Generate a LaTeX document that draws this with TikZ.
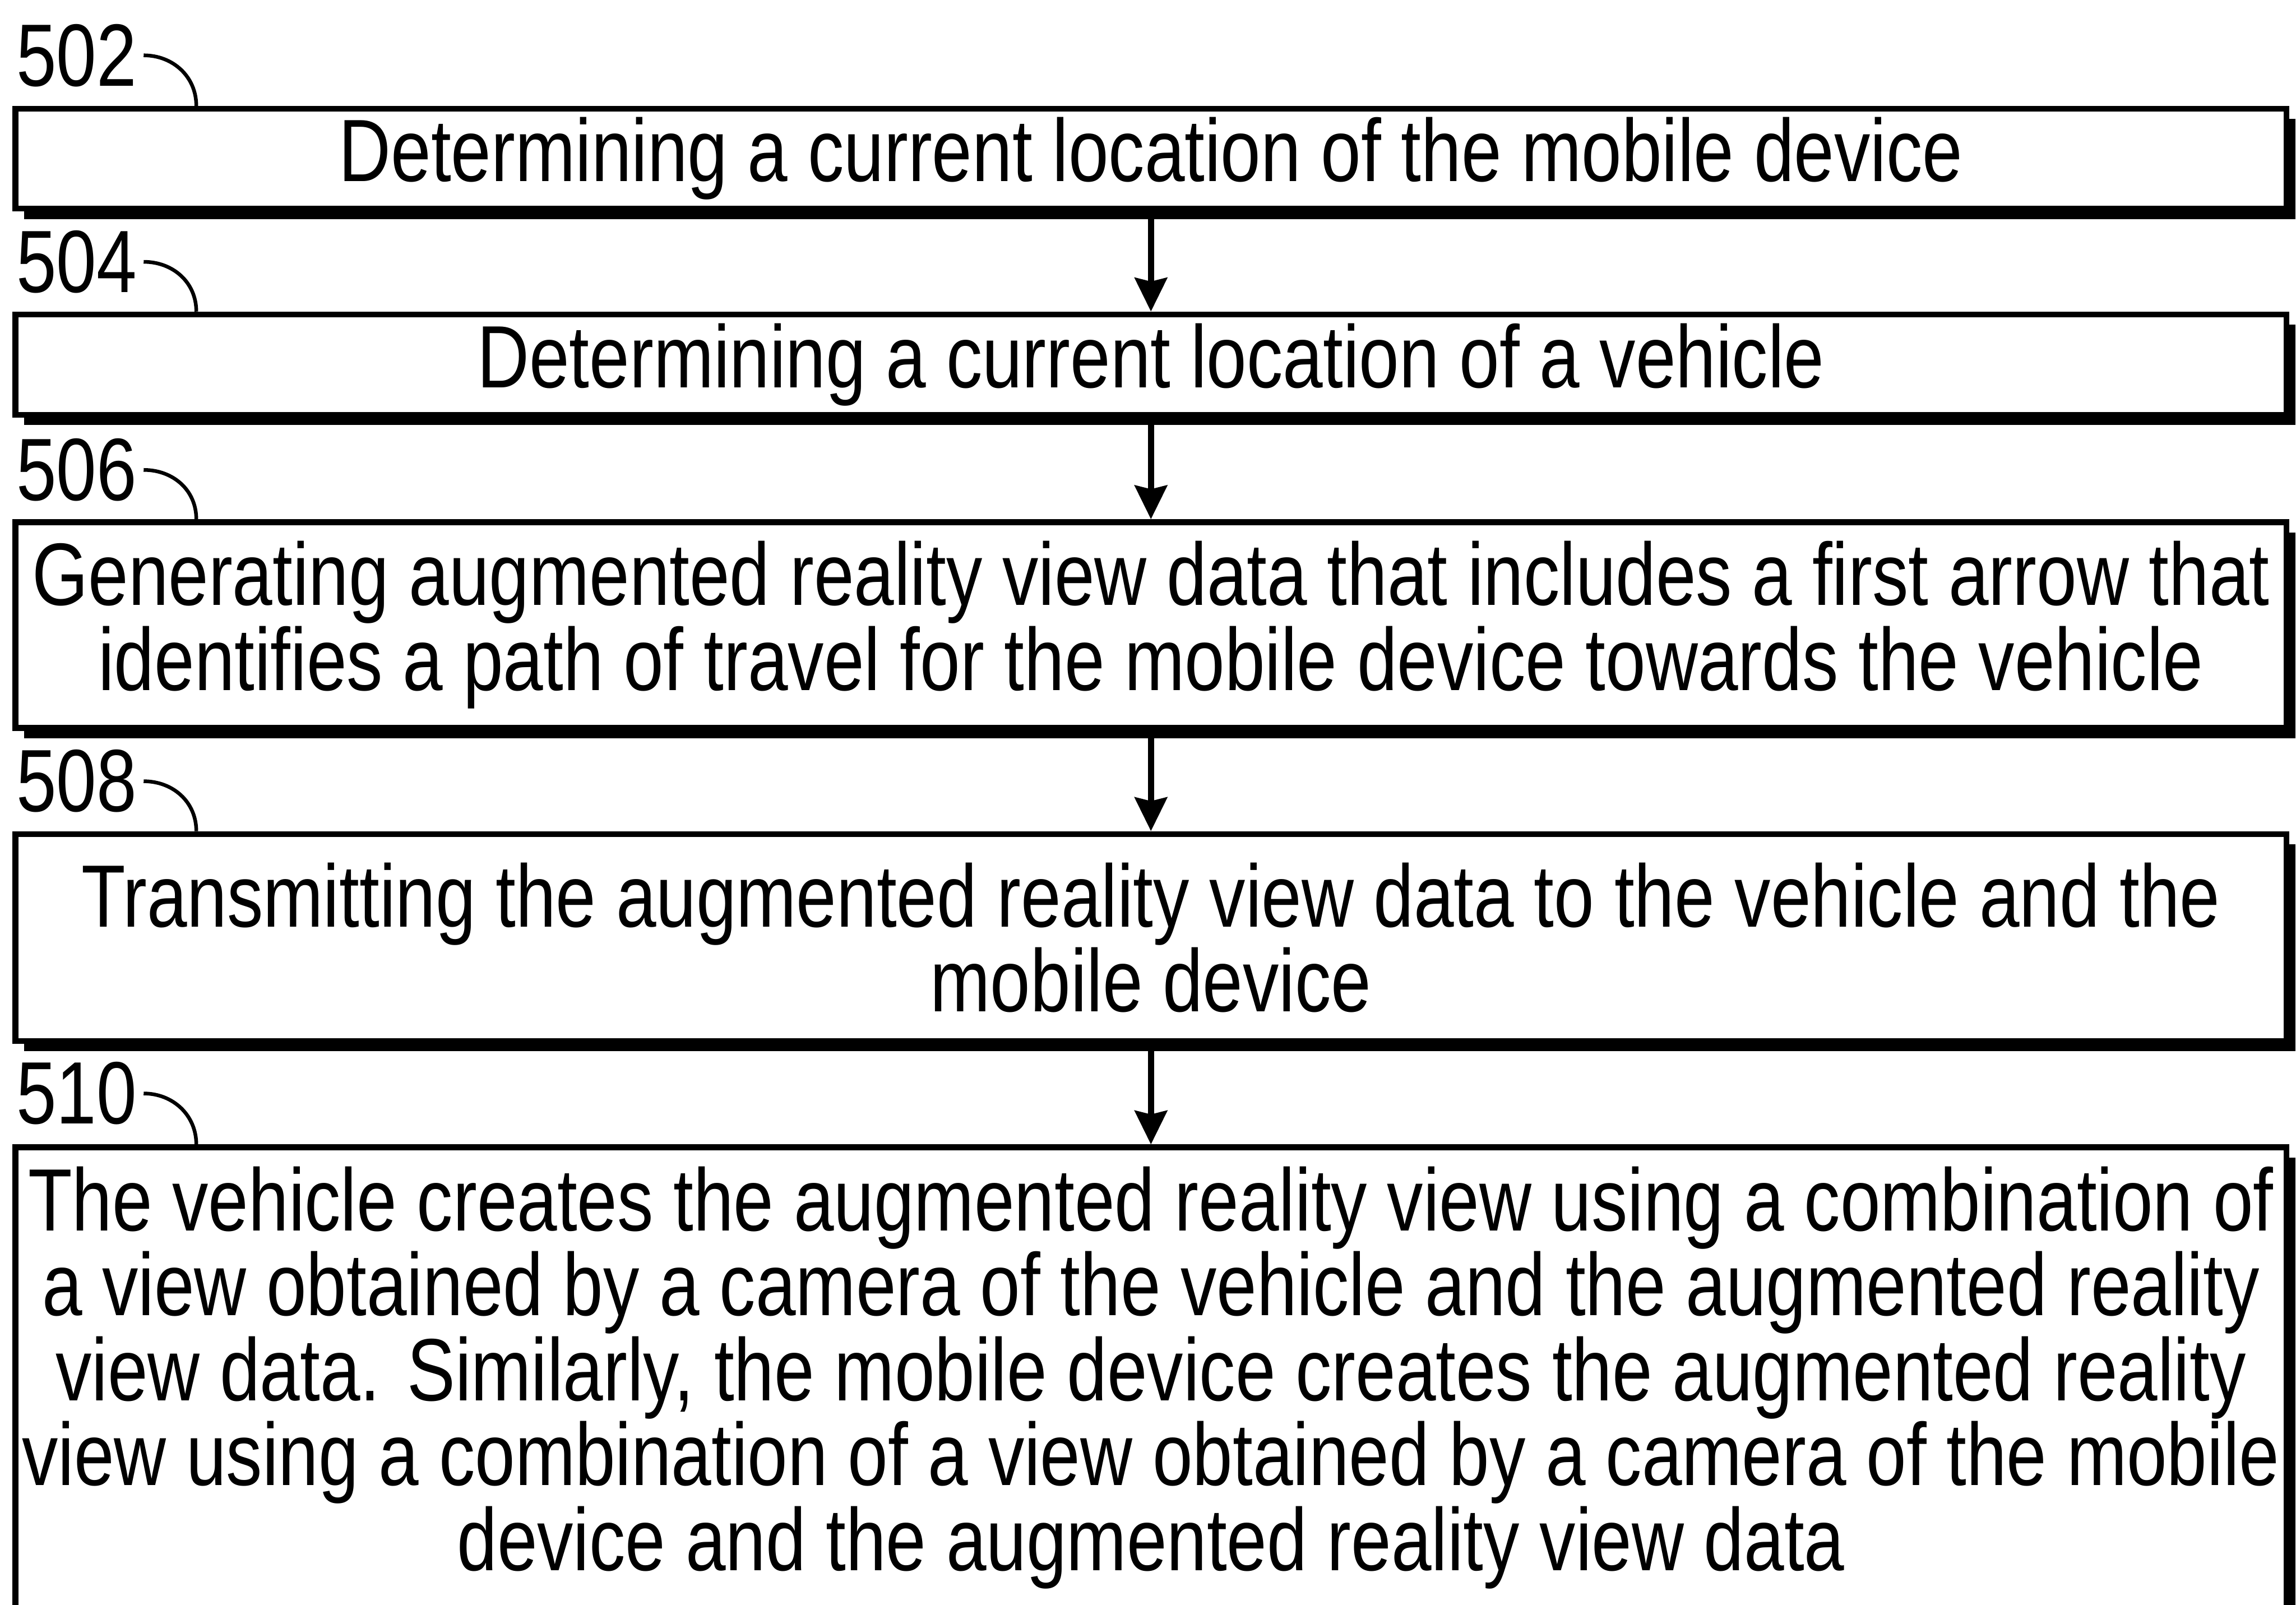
\documentclass[tikz,border=0pt]{standalone}
\usepackage{fontspec}
\setmainfont{Liberation Sans}[FakeStretch=0.815]
\usepackage{tikz}
\usetikzlibrary{arrows.meta, shadows}

\begin{document}
\begin{tikzpicture}[x=0.1mm, y=-0.1mm,
	font=\fontsize{17.2pt}{16.5pt}\selectfont,
	stepbox/.style={draw, line width=0.4mm, fill=white, inner xsep=0pt, inner ysep=0pt,
		minimum width=155.09mm, align=center,
		drop shadow={shadow xshift=0.6mm, shadow yshift=-0.7mm, fill=black, opacity=1}},
	reflabel/.style={anchor=base west, inner sep=0pt},
	refline/.style={line width=0.25mm},
	flow/.style={line width=0.41mm, -{Stealth[length=2.3mm, width=2.2mm, inset=0.25mm]}}]
	\useasboundingbox (0,0) rectangle (1568,1096);
	\clip (0,0) rectangle (1568,1096);
	% pasos
	\node[stepbox, minimum height=6.82mm] (b502) at (786,108.4)
		{Determining a current location of the mobile device};
	\node[stepbox, minimum height=6.85mm] (b504) at (786,249)
		{Determining a current location of a vehicle};
	\node[stepbox, minimum height=14.05mm] (b506) at (786,426.8)
		{Generating augmented reality view data that includes a first arrow that\\
		identifies a path of travel for the mobile device towards the vehicle};
	\node[stepbox, minimum height=14.13mm] (b508) at (786,640.2)
		{Transmitting the augmented reality view data to the vehicle and the\\
		mobile device};
	\node[stepbox, anchor=north, inner ysep=1.3mm, text depth=4mm] (b510) at (786,781.5)
		{The vehicle creates the augmented reality view using a combination of\\
		a view obtained by a camera of the vehicle and the augmented reality\\
		view data. Similarly, the mobile device creates the augmented reality\\
		view using a combination of a view obtained by a camera of the mobile\\
		device and the augmented reality view data};
	% referencias
	\node[reflabel] (l502) at (10.5,58.6) {502};
	\node[reflabel] (l504) at (10.5,199.6) {504};
	\node[reflabel] (l506) at (10.5,341.7) {506};
	\node[reflabel] (l508) at (10.5,554.3) {508};
	\node[reflabel] (l510) at (10.5,767.5) {510};
	\foreach \n in {502,504,506,508,510}
		\draw[refline] ([xshift=0.4mm]l\n.east) .. controls +(20,0) and +(0,-20) ..
			([xshift=12.55mm]b\n.north west);
	% flechas
	\draw[flow] (b502) -- (b504);
	\draw[flow] (b504) -- (b506);
	\draw[flow] (b506) -- (b508);
	\draw[flow] (b508) -- (b510);
\end{tikzpicture}
\end{document}
